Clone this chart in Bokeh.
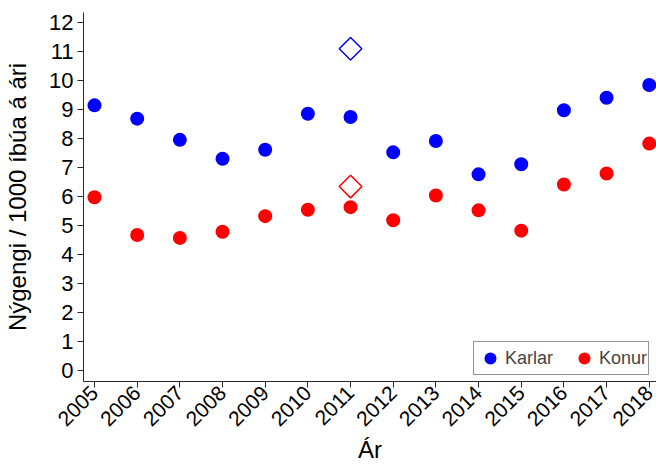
import math
from bokeh.plotting import figure
from bokeh.models import FixedTicker, Range1d, Legend, LegendItem
from bokeh.embed import file_html
from bokeh.resources import INLINE

years = [2005, 2006, 2007, 2008, 2009, 2010, 2011, 2012, 2013, 2014, 2015, 2016, 2017, 2018]
karlar = [9.14, 8.68, 7.95, 7.30, 7.61, 8.85, 8.74, 7.52, 7.91, 6.76, 7.11, 8.97, 9.40, 9.84]
konur = [5.97, 4.67, 4.57, 4.78, 5.32, 5.54, 5.63, 5.18, 6.03, 5.52, 4.82, 6.41, 6.79, 7.82]
special_year = [2011]
special_karlar = [11.09]
special_konur = [6.34]
y_ticks = list(range(0, 13))

FONT = "Liberation Sans"

p = figure(width=656, height=467, output_backend="svg", toolbar_location=None,
           x_range=Range1d(2004.742, 2018.17), y_range=Range1d(-0.38, 12.34),
           min_border_left=83, min_border_right=0, min_border_top=12, min_border_bottom=86)
p.outline_line_color = None
p.xgrid.grid_line_color = None
p.ygrid.grid_line_color = None

r1 = p.scatter(years, karlar, size=14, marker="circle", fill_color="#0000ff", line_color=None)
r2 = p.scatter(years, konur, size=14, marker="circle", fill_color="#ff0000", line_color=None)
p.scatter(special_year, special_karlar, size=16, marker="square", angle=math.pi / 4,
          fill_color=None, line_color="#0000ff", line_width=1.5)
p.scatter(special_year, special_konur, size=16, marker="square", angle=math.pi / 4,
          fill_color=None, line_color="#ff0000", line_width=1.5)

for ax in (p.xaxis[0], p.yaxis[0]):
    ax.axis_line_color = "#2a2a2a"
    ax.major_tick_line_color = "#2a2a2a"
    ax.major_tick_out = 6
    ax.major_tick_in = 0
    ax.minor_tick_line_color = None
    ax.major_label_text_font = FONT
    ax.major_label_text_font_size = "22px"
    ax.major_label_text_color = "black"
    ax.axis_label_text_font = FONT
    ax.axis_label_text_font_size = "24px"
    ax.axis_label_text_font_style = "normal"
    ax.axis_label_text_color = "black"

p.xaxis.ticker = FixedTicker(ticks=years)
p.xaxis.major_label_overrides = {y: str(y) for y in years}
p.xaxis.major_label_orientation = math.pi / 4
p.xaxis.major_label_text_font_size = "21px"
p.xaxis.major_label_standoff = 2
p.xaxis.axis_label = "Ár"
p.xaxis.axis_label_standoff = 1
p.yaxis.ticker = FixedTicker(ticks=y_ticks)
p.yaxis.axis_label = "Nýgengi / 1000 íbúa á ári"
p.yaxis.axis_label_standoff = 15
p.yaxis.major_label_standoff = 4

legend = Legend(items=[LegendItem(label="Karlar", renderers=[r1]),
                       LegendItem(label="Konur", renderers=[r2])],
                orientation="horizontal", location=(390, 6),
                label_text_font=FONT, label_text_font_size="18px",
                glyph_width=30, glyph_height=30, padding=1, spacing=16,
                label_standoff=0, margin=0,
                border_line_color="#2a2a2a", border_line_width=1)
p.add_layout(legend, "center")

open("out.html", "w").write(file_html(p, INLINE))
